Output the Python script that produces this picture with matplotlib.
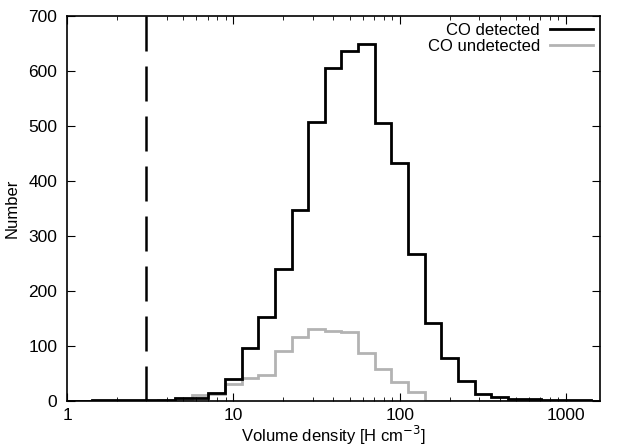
import numpy as np
import matplotlib
matplotlib.use("Agg")
import matplotlib.pyplot as plt
from matplotlib.lines import Line2D

plt.rcParams['font.family'] = ['Liberation Sans', 'DejaVu Sans']

# bin centres in log10(n) (0.1 dex bins)
log_centres = [0.0, 0.1, 0.2, 0.3, 0.4, 0.5, 0.6, 0.7, 0.8, 0.9,
               1.0, 1.1, 1.2, 1.3, 1.4, 1.5, 1.6, 1.7, 1.8, 1.9,
               2.0, 2.1, 2.2, 2.3, 2.4, 2.5, 2.6, 2.7, 2.8, 2.9,
               3.0, 3.1, 3.2]
co_detected = [0, 0, 1, 2, 1, 1, 2, 6, 5, 14,
               40, 97, 152, 240, 347, 508, 605, 637, 650, 505,
               432, 268, 141, 78, 36, 12, 7, 4, 3, 2,
               1, 1, 0]
co_undetected = [0, 0, 0, 0, 0, 0, 2, 4, 10, 12,
                 30, 42, 47, 91, 117, 131, 128, 126, 87, 58,
                 35, 16, 0, 0, 0, 0, 0, 0, 0, 0,
                 0, 0, 0]
threshold = 3.0

c = np.array(log_centres)
edges = 10 ** np.concatenate([c - 0.05, [c[-1] + 0.05]])
edges[0] = 1.0

fig = plt.figure(figsize=(6.17, 4.46), dpi=100)
ax = fig.add_axes([0.1086, 0.1009, 0.8638, 0.8632])

ax.stairs(co_undetected, edges, color='#b3b3b3', lw=2.0, baseline=0)
ax.stairs(co_detected, edges, color='black', lw=2.0, baseline=0)
ax.axvline(threshold, color='black', lw=1.8, dashes=(14, 6))

ax.set_xscale('log')
ax.set_xlim(1, 1600)
ax.set_ylim(0, 700)
ax.set_yticks(np.arange(0, 701, 100))
ax.set_xticks([1, 10, 100, 1000])
ax.set_xticklabels(['1', '10', '100', '1000'])

ax.tick_params(which='both', direction='in', top=True, right=True, labelsize=12.5)
ax.tick_params(axis='y', pad=7)
ax.tick_params(axis='x', pad=5)
ax.tick_params(which='major', length=6, width=0.8)
ax.tick_params(which='minor', length=3, width=0.6)
for s in ax.spines.values():
    s.set_linewidth(1.2)

ax.set_xlabel('Volume density [H cm$^{-3}$]', fontsize=12, labelpad=1)
ax.set_ylabel('Number', fontsize=12, labelpad=6)

handles = [Line2D([], [], color='black', lw=2.0), Line2D([], [], color='#b3b3b3', lw=2.0)]
ax.legend(handles, ['CO detected', 'CO undetected'], loc='upper right', frameon=False,
          markerfirst=False, fontsize=12, handlelength=2.6, labelspacing=0.05,
          borderaxespad=0.0, handletextpad=0.6)

fig.savefig('out.png', dpi=100)
